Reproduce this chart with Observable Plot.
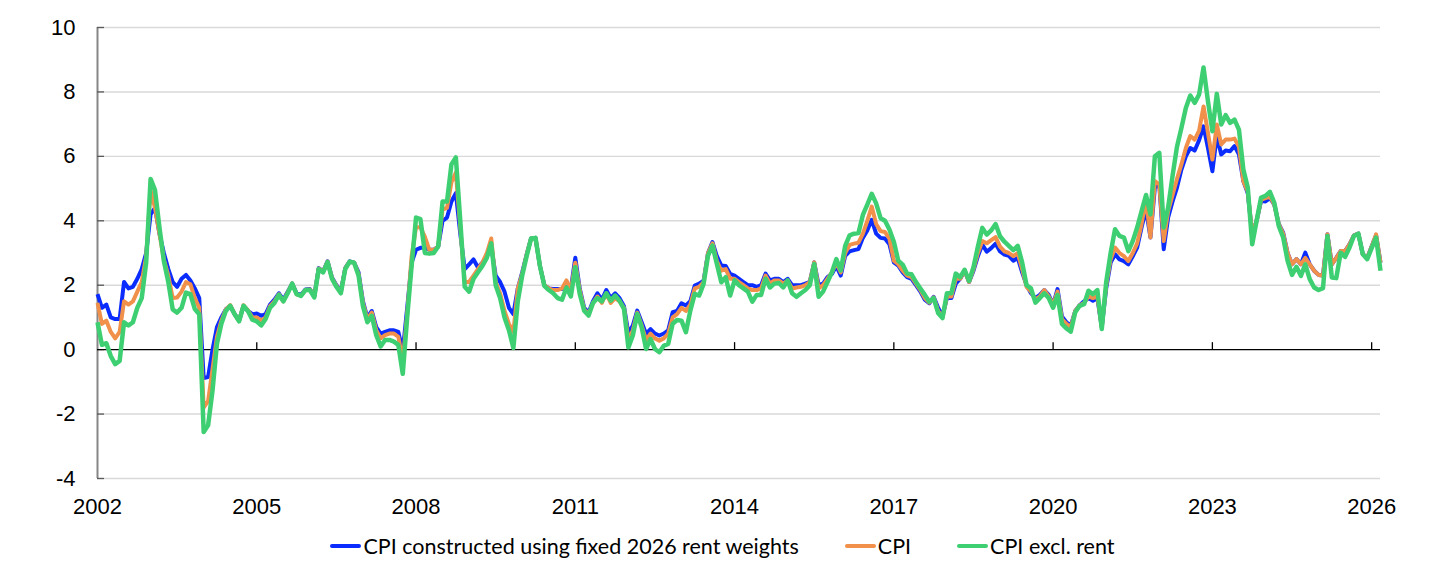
<!DOCTYPE html>
<html><head><meta charset="utf-8">
<script src="https://cdn.jsdelivr.net/npm/d3@7"></script>
<script src="https://cdn.jsdelivr.net/npm/@observablehq/plot@0.6"></script>
<style>
body{margin:0;background:#fff;}
#wrap{position:relative;width:1445px;height:576px;}
.legend{position:absolute;top:533px;left:0;width:1445px;display:flex;justify-content:center;align-items:center;gap:46px;font-family:Lato, "Liberation Sans", sans-serif;font-size:21.5px;color:#000;}
.item{display:flex;align-items:center;gap:2px;}
.sw{width:31px;height:4.5px;border-radius:2px;}
</style></head><body>
<div id="wrap"><div id="chart"></div><div class="legend" id="legend"></div></div>
<script>
const startYear = 2002;
const tickYears = [2002, 2005, 2008, 2011, 2014, 2017, 2020, 2023, 2026];
const yTicks = [-4, -2, 0, 2, 4, 6, 8, 10];
const seriesNames = ["CPI constructed using fixed 2026 rent weights", "CPI", "CPI excl. rent"];
const seriesColors = ["#0a2cff", "#f0904a", "#3ecf72"];

// Monthly values, Jan 2002 - Mar 2026 (one row per year)
const cpiFixedRent = [
1.72,1.3,1.4,1.0,0.95,0.95,2.1,1.9,1.95,2.2,2.5,3.0,
4.2,4.4,3.6,3.0,2.5,2.1,1.95,2.2,2.32,2.15,1.9,1.6,
-0.88,-0.85,0.0,0.7,1.0,1.25,1.36,1.1,0.9,1.36,1.2,1.1,
1.12,1.05,1.1,1.4,1.55,1.75,1.55,1.8,2.05,1.75,1.7,1.87,
1.88,1.66,2.53,2.43,2.74,2.24,2.0,1.8,2.53,2.74,2.7,2.4,
1.5,1.0,1.2,0.7,0.5,0.55,0.6,0.6,0.55,-0.05,1.3,2.7,
3.1,3.16,3.16,3.1,3.1,3.2,4.0,4.1,4.6,4.86,3.6,2.5,
2.65,2.8,2.55,2.7,2.9,3.2,2.3,2.1,1.8,1.3,1.1,1.9,
2.4,2.95,3.45,3.47,2.6,2.0,1.9,1.88,1.88,1.88,2.05,1.9,
2.85,1.9,1.3,1.15,1.5,1.75,1.55,1.85,1.6,1.75,1.6,1.35,
0.5,0.75,1.21,0.85,0.49,0.64,0.5,0.44,0.5,0.6,1.16,1.2,
1.44,1.37,1.5,1.99,2.05,2.14,3.0,3.34,2.9,2.61,2.6,2.35,
2.3,2.2,2.1,2.0,2.0,1.95,2.0,2.36,2.15,2.2,2.2,2.1,
2.2,2.0,2.0,2.0,2.05,2.1,2.71,2.0,2.05,2.25,2.35,2.6,
2.3,2.91,3.05,3.09,3.12,3.47,3.7,4.03,3.6,3.47,3.45,3.27,
2.71,2.61,2.4,2.25,2.2,2.0,1.8,1.55,1.44,1.64,1.3,1.05,
1.6,1.6,2.05,2.2,2.45,2.1,2.45,2.9,3.26,3.04,3.15,3.29,
3.05,2.95,2.91,2.76,2.85,2.4,2.0,1.75,1.6,1.7,1.85,1.7,
1.4,1.88,1.03,0.85,0.75,1.2,1.38,1.5,1.6,1.52,1.6,0.7,
1.9,2.7,2.96,2.8,2.75,2.65,2.9,3.17,3.8,4.35,3.48,5.03,
5.13,3.12,4.1,4.6,5.03,5.59,6.0,6.26,6.18,6.5,6.93,6.26,
5.54,6.63,6.06,6.18,6.16,6.32,6.06,5.23,4.85,3.6,4.0,4.62,
4.6,4.7,4.5,3.9,3.63,3.0,2.65,2.81,2.65,3.01,2.65,2.45,
2.32,2.3,3.58,2.65,2.85,3.06,3.06,3.27,3.55,3.6,2.96,2.85,
3.2,3.55,2.7
];
const cpiTotal = [
1.45,0.8,0.9,0.55,0.35,0.55,1.5,1.4,1.5,1.8,2.1,2.9,
4.95,4.4,3.6,2.8,2.3,1.6,1.62,1.8,2.1,2.03,1.6,1.3,
-1.8,-1.6,-0.6,0.4,0.9,1.25,1.38,1.1,0.9,1.38,1.22,1.0,
1.0,0.9,1.0,1.35,1.5,1.72,1.5,1.78,2.05,1.72,1.68,1.85,
1.87,1.65,2.52,2.42,2.73,2.22,1.98,1.78,2.52,2.73,2.7,2.35,
1.45,0.95,1.15,0.6,0.35,0.45,0.5,0.5,0.4,-0.35,1.1,2.9,
3.8,3.8,3.5,3.1,3.1,3.2,4.35,4.4,5.2,5.5,3.8,2.1,
2.1,2.3,2.5,2.7,3.0,3.45,2.1,1.75,1.2,0.8,0.55,1.9,
2.35,2.95,3.45,3.47,2.6,2.0,1.9,1.85,1.85,1.9,2.15,1.85,
2.7,1.85,1.25,1.1,1.45,1.65,1.45,1.75,1.45,1.6,1.5,1.3,
0.3,0.6,1.15,0.75,0.3,0.5,0.35,0.28,0.35,0.5,1.0,1.1,
1.3,1.2,1.4,1.9,1.95,2.1,3.0,3.3,2.75,2.45,2.5,2.2,
2.2,2.1,2.0,1.9,1.85,1.85,1.9,2.3,2.05,2.15,2.15,2.05,
2.15,1.9,1.93,1.95,2.0,2.1,2.71,1.9,2.0,2.2,2.4,2.7,
2.4,3.0,3.25,3.29,3.32,3.6,4.0,4.44,3.9,3.68,3.65,3.45,
2.76,2.65,2.45,2.3,2.25,2.05,1.85,1.6,1.46,1.62,1.2,1.0,
1.65,1.65,2.2,2.2,2.45,2.1,2.5,3.0,3.37,3.3,3.4,3.49,
3.2,3.05,3.0,2.9,3.0,2.5,1.95,1.8,1.55,1.65,1.85,1.65,
1.4,1.8,0.95,0.8,0.7,1.2,1.38,1.45,1.65,1.6,1.65,0.7,
2.0,2.8,3.17,3.0,2.9,2.75,3.0,3.3,3.9,4.65,3.48,5.23,
5.13,3.37,4.3,4.8,5.3,5.75,6.26,6.63,6.52,6.8,7.55,6.73,
5.9,6.99,6.37,6.52,6.52,6.55,6.3,5.23,4.9,3.6,4.0,4.65,
4.7,4.75,4.5,3.9,3.6,3.0,2.65,2.81,2.65,2.85,2.65,2.45,
2.32,2.3,3.58,2.65,2.85,3.06,3.06,3.27,3.55,3.6,2.96,2.85,
3.2,3.58,2.7
];
const cpiExRent = [
0.85,0.15,0.2,-0.2,-0.45,-0.35,0.85,0.75,0.85,1.3,1.6,2.7,
5.3,4.95,3.8,2.75,2.1,1.25,1.15,1.3,1.77,1.72,1.26,1.1,
-2.56,-2.35,-1.27,0.18,0.8,1.2,1.36,1.1,0.88,1.36,1.2,0.93,
0.88,0.75,0.95,1.3,1.45,1.7,1.5,1.75,2.05,1.72,1.67,1.85,
1.85,1.62,2.5,2.4,2.72,2.2,1.95,1.75,2.5,2.73,2.7,2.3,
1.35,0.85,1.05,0.45,0.1,0.3,0.3,0.25,0.15,-0.75,1.0,2.6,
4.1,4.05,3.0,2.98,3.0,3.2,4.6,4.6,5.75,5.97,4.0,1.95,
1.8,2.2,2.4,2.6,2.85,3.3,2.0,1.6,1.0,0.6,0.05,1.5,
2.3,2.9,3.45,3.47,2.6,1.98,1.85,1.75,1.6,1.55,1.93,1.65,
2.56,1.73,1.21,1.06,1.45,1.6,1.5,1.75,1.52,1.68,1.52,1.26,
0.07,0.44,1.11,0.69,0.02,0.33,0.02,-0.08,0.12,0.18,0.8,0.92,
0.9,0.54,1.21,1.73,1.68,2.04,2.92,3.23,2.66,2.09,2.25,1.68,
2.15,2.0,1.9,1.8,1.49,1.7,1.7,2.2,1.93,2.05,2.07,1.93,
2.15,1.75,1.64,1.75,1.85,2.0,2.66,1.64,1.8,2.1,2.4,2.81,
2.46,3.22,3.55,3.6,3.62,4.18,4.5,4.84,4.54,4.08,4.0,3.73,
3.35,2.76,2.64,2.36,2.34,2.1,1.9,1.7,1.49,1.6,1.14,0.98,
1.75,1.75,2.36,2.25,2.48,2.13,2.56,3.2,3.78,3.57,3.7,3.9,
3.52,3.35,3.22,3.09,3.22,2.71,2.0,1.9,1.46,1.6,1.75,1.6,
1.3,1.7,0.8,0.66,0.56,1.16,1.36,1.41,1.83,1.72,1.85,0.64,
2.1,3.0,3.74,3.53,3.48,3.06,3.37,3.79,4.3,4.8,4.2,6.0,
6.11,3.79,4.41,5.4,6.3,6.88,7.5,7.89,7.66,7.92,8.76,7.71,
6.78,7.94,6.99,7.28,7.04,7.14,6.83,5.59,5.03,3.27,4.0,4.72,
4.77,4.9,4.56,3.84,3.48,2.76,2.32,2.57,2.29,2.65,2.19,1.93,
1.85,1.91,3.53,2.24,2.22,3.01,2.88,3.17,3.53,3.6,2.96,2.81,
3.15,3.48,2.45
];

const seriesData = [cpiFixedRent, cpiTotal, cpiExRent];
const tickIdx = tickYears.map(y => (y - startYear) * 12);
const lastIdx = cpiTotal.length - 1;

const lineMarks = seriesData.map((vals, k) =>
  Plot.line(vals, {x: (d, i) => i, y: d => d, stroke: seriesColors[k], strokeWidth: k === 2 ? 4.5 : 4, strokeLinejoin: "round", strokeLinecap: "butt"})
);

const chart = Plot.plot({
  width: 1445,
  height: 530,
  marginLeft: 97,
  marginRight: 65,
  marginTop: 27,
  marginBottom: 52,
  x: {type: "linear", domain: [0, lastIdx]},
  y: {domain: [-4, 10]},
  style: {fontFamily: "'Liberation Sans', Arial, sans-serif", fontSize: "22px", color: "#000", background: "#fff"},
  marks: [
    Plot.ruleY(yTicks.filter(d => d !== 0), {stroke: "#d9d9d9", strokeWidth: 1.4}),
    Plot.ruleX([0], {y1: -4, y2: 10, stroke: "#868686", strokeWidth: 2}),
    Plot.ruleY(yTicks, {x1: 0, x2: 0, insetRight: -7, stroke: "#595959", strokeWidth: 1.3}),
    Plot.ruleY([0], {stroke: "#000", strokeWidth: 1.4}),
    Plot.ruleX(tickIdx.slice(1), {y1: 0, y2: 0, insetTop: -7, stroke: "#000", strokeWidth: 1.3}),
    ...lineMarks,
    Plot.axisY(yTicks, {tickSize: 0, tickPadding: 22, tickFormat: d => String(d), fontSize: 22, fill: "#000"}),
    Plot.axisX(tickIdx, {tickSize: 0, tickPadding: 20, tickFormat: d => String(startYear + d / 12), fontSize: 22, fill: "#000"})
  ]
});
document.getElementById("chart").appendChild(chart);

const legend = document.getElementById("legend");
seriesNames.forEach((name, k) => {
  const item = document.createElement("div");
  item.className = "item";
  const sw = document.createElement("span");
  sw.className = "sw";
  sw.style.background = seriesColors[k];
  const label = document.createElement("span");
  label.textContent = name;
  item.appendChild(sw);
  item.appendChild(label);
  legend.appendChild(item);
});
</script>
</body></html>
